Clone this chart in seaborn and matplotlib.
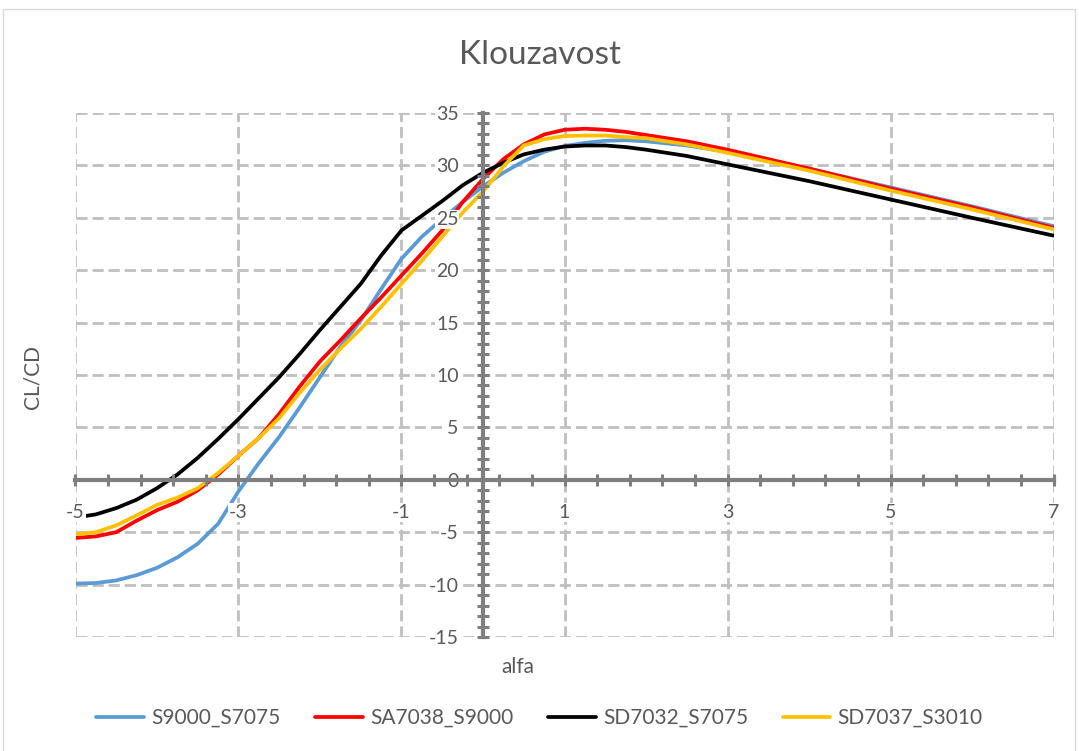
import numpy as np
import pandas as pd
import matplotlib
matplotlib.use("Agg")
import matplotlib.pyplot as plt
from matplotlib.patches import Rectangle
from matplotlib.ticker import FixedLocator, MultipleLocator
import seaborn as sns

# values
alfa = [-5, -4.75, -4.5, -4.25, -4, -3.75, -3.5, -3.25, -3, -2.75, -2.5, -2.25,
        -2, -1.75, -1.5, -1.25, -1, -0.75, -0.5, -0.25, 0, 0.25, 0.5, 0.75,
        1, 1.25, 1.5, 1.75, 2, 2.5, 3, 4, 5, 6, 7]
s9000_s7075 = [-9.9, -9.85, -9.6, -9.1, -8.4, -7.4, -6.1, -4.2, -1.1, 1.6, 4.1, 6.9,
               9.8, 12.7, 15.2, 18.2, 21.1, 23.2, 24.9, 26.5, 28.0, 29.3, 30.4, 31.3,
               31.85, 32.15, 32.35, 32.4, 32.3, 31.9, 31.3, 29.7, 27.9, 26.1, 24.2]
sa7038_s9000 = [-5.55, -5.4, -5.0, -3.9, -2.9, -2.1, -1.0, 0.5, 2.3, 4.0, 6.3, 8.9,
                11.3, 13.3, 15.4, 17.4, 19.5, 21.6, 23.8, 26.5, 28.7, 30.6, 32.0, 32.95,
                33.4, 33.5, 33.4, 33.2, 32.9, 32.3, 31.5, 29.7, 27.8, 26.0, 24.05]
sd7032_s7075 = [-3.6, -3.3, -2.7, -1.9, -0.8, 0.5, 2.1, 3.9, 5.8, 7.8, 9.8, 12.0,
                14.3, 16.5, 18.7, 21.4, 23.8, 25.2, 26.6, 28.1, 29.3, 30.25, 31.05, 31.5,
                31.8, 31.9, 31.9, 31.75, 31.5, 30.9, 30.1, 28.5, 26.75, 25.0, 23.3]
sd7037_s3010 = [-5.2, -5.0, -4.35, -3.4, -2.4, -1.7, -0.8, 0.65, 2.3, 4.0, 5.9, 8.3,
                10.5, 12.5, 14.4, 16.5, 18.7, 20.9, 23.2, 25.5, 27.5, 29.9, 31.9, 32.5,
                32.8, 32.85, 32.85, 32.7, 32.6, 32.0, 31.2, 29.5, 27.6, 25.8, 23.9]

series_names = ["S9000_S7075", "SA7038_S9000", "SD7032_S7075", "SD7037_S3010"]
series_colors = ["#5B9BD5", "#FF0000", "#000000", "#FFC000"]

x_major = [-5, -3, -1, 1, 3, 5, 7]
y_major = list(range(-15, 36, 5))

df = pd.concat([
    pd.DataFrame({"alfa": alfa, "CL/CD": vals, "profil": name})
    for name, vals in zip(series_names, [s9000_s7075, sa7038_s9000, sd7032_s7075, sd7037_s3010])
])

sns.set_style("white")
plt.rcParams["font.family"] = ["Lato", "DejaVu Sans"]

text_color = "#595959"
axis_color = "#7f7f7f"
grid_color = "#bfbfbf"

fig = plt.figure(figsize=(10.79, 7.51), dpi=100)
ax = fig.add_axes([75.5 / 1079, 1 - 637 / 751, 978 / 1079, 524 / 751])

# dashed grid drawn by hand so it stays below the curves
for xv in x_major:
    ax.axvline(xv, color=grid_color, lw=2, ls=(0, (4, 1.8)), zorder=0.5)
for yv in y_major:
    ax.axhline(yv, color=grid_color, lw=2, ls=(0, (4, 1.8)), zorder=0.5)

sns.lineplot(data=df, x="alfa", y="CL/CD", hue="profil", palette=series_colors,
             hue_order=series_names, sort=False, lw=2.7, ax=ax, zorder=2)
for line in ax.lines:
    line.set_solid_joinstyle("round")
    line.set_solid_capstyle("round")

ax.set_xlim(-5, 7)
ax.set_ylim(-15, 35)

# Excel style axes crossing at zero
for side in ["top", "right"]:
    ax.spines[side].set_visible(False)
ax.spines["left"].set_position(("data", 0))
ax.spines["bottom"].set_position(("data", 0))
for side in ["left", "bottom"]:
    ax.spines[side].set_color(axis_color)
    ax.spines[side].set_linewidth(3)
    ax.spines[side].set_zorder(3)
ax.spines["left"].set_bounds(-15, 35)
ax.spines["bottom"].set_bounds(-5, 7)
ax.set_axisbelow(False)

ax.xaxis.set_major_locator(FixedLocator(x_major))
ax.xaxis.set_minor_locator(FixedLocator(np.arange(-5, 7.01, 0.4)))
ax.yaxis.set_major_locator(FixedLocator(y_major))
ax.yaxis.set_minor_locator(MultipleLocator(1))

ax.tick_params(axis="both", which="both", direction="inout", length=9,
               width=2.2, color=axis_color, labelsize=14, labelcolor=text_color,
               bottom=True, left=True)
ax.tick_params(axis="x", which="both", pad=13)
ax.tick_params(axis="y", which="both", pad=13)
ax.set_xticklabels([str(v) for v in x_major])
ax.set_yticklabels([str(v) for v in y_major])
for lab in ax.get_xticklabels() + ax.get_yticklabels():
    lab.set_bbox(dict(facecolor="white", edgecolor="none", pad=0.5))

ax.set_xlabel("")
ax.set_ylabel("")

handles, labels = ax.get_legend_handles_labels()
ax.get_legend().remove()
fig.legend(handles, labels, loc="center", bbox_to_anchor=(0.5, 1 - 718 / 751),
           ncol=4, frameon=False, fontsize=15, labelcolor=text_color,
           handlelength=2.3, handletextpad=0.35, columnspacing=1.65)

fig.text(0.5, 1 - 55 / 751, "Klouzavost", ha="center", va="center",
         fontsize=24, color=text_color)
fig.text(518 / 1079, 1 - 667 / 751, "alfa", ha="center", va="center",
         fontsize=15, color=text_color)
fig.text(32 / 1079, 1 - 377 / 751, "CL/CD", ha="center", va="center",
         rotation=90, fontsize=15, color=text_color)

fig.patches.append(Rectangle((3 / 1079, -0.01), 1072 / 1079, 1 - 9 / 751 + 0.01,
                             transform=fig.transFigure, fill=False,
                             edgecolor="#d9d9d9", lw=1))

fig.savefig("out.png", dpi=100)
